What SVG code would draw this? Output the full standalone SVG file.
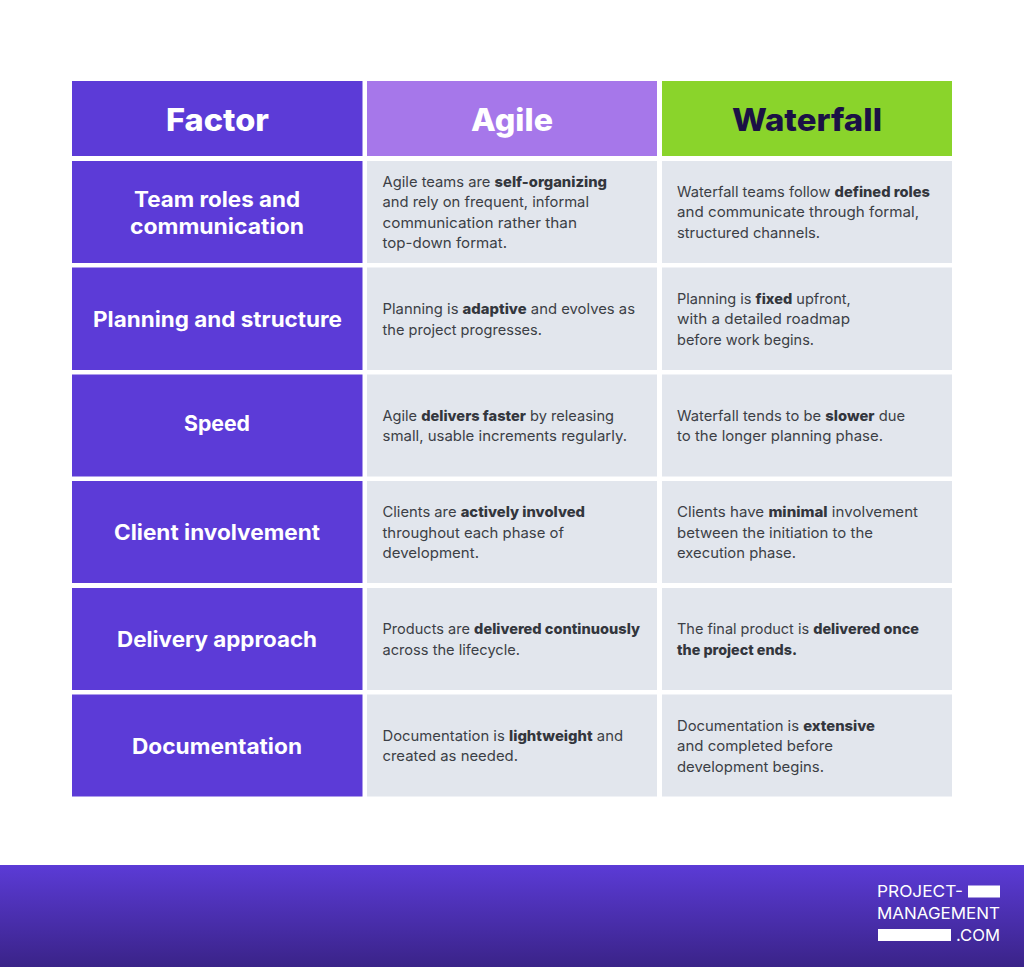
<svg xmlns="http://www.w3.org/2000/svg" width="1024" height="967" viewBox="0 0 1024 967">
<style>
text{font-family:"Inter","Noto Sans","Liberation Sans",sans-serif}
.p{fill:#5c3bd7}.g{fill:#e2e6ed}
.h{font-size:31px;font-weight:800}
.l{font-size:21px;font-weight:700;fill:#fff}
.b{font-size:14.500px;fill:#3c3f46}
.b tspan{font-weight:800;fill:#33363d}
.m{font-size:16.500px;fill:#fff;font-weight:400}
</style>
<defs><linearGradient id="ft" x1="0" y1="0" x2="0" y2="1"><stop offset="0" stop-color="#5b3bd6"/><stop offset="1" stop-color="#3a2388"/></linearGradient></defs>
<rect width="1024" height="967" fill="#fff"/>
<g id="header">
<g id="h-factor"><rect class="p" x="72" y="81" width="290.500" height="75"/><text class="h" x="166" y="130.500" textLength="103" lengthAdjust="spacingAndGlyphs" fill="#fff">Factor</text></g>
<g id="h-agile"><rect x="367" y="81" width="290" height="75" fill="#a677ea"/><text class="h" x="471" y="130.500" textLength="82" lengthAdjust="spacingAndGlyphs" fill="#fff">Agile</text></g>
<g id="h-waterfall"><rect x="662" y="81" width="290" height="75" fill="#8ad42b"/><text class="h" x="732" y="130.500" textLength="150" lengthAdjust="spacingAndGlyphs" fill="#1b1145">Waterfall</text></g>
</g>
<g id="row1">
<rect class="p" x="72" y="161" width="290.500" height="102"/>
<text class="l" x="134" y="206.500" textLength="166" lengthAdjust="spacingAndGlyphs">Team roles and</text>
<text class="l" x="130" y="233.500" textLength="174" lengthAdjust="spacingAndGlyphs">communication</text>
<rect class="g" x="367" y="161" width="290" height="102"/>
<text class="b" x="382.500" y="186.500" textLength="224.500" lengthAdjust="spacingAndGlyphs">Agile teams are <tspan>self-organizing</tspan></text>
<text class="b" x="382.500" y="207" textLength="206.500" lengthAdjust="spacingAndGlyphs">and rely on frequent, informal</text>
<text class="b" x="382.500" y="227.500" textLength="194.500" lengthAdjust="spacingAndGlyphs">communication rather than</text>
<text class="b" x="382.500" y="248" textLength="124.500" lengthAdjust="spacingAndGlyphs">top-down format.</text>
<rect class="g" x="662" y="161" width="290" height="102"/>
<text class="b" x="677" y="196.500" textLength="253" lengthAdjust="spacingAndGlyphs">Waterfall teams follow <tspan>defined roles</tspan></text>
<text class="b" x="677" y="217" textLength="242" lengthAdjust="spacingAndGlyphs">and communicate through formal,</text>
<text class="b" x="677" y="237.500" textLength="143" lengthAdjust="spacingAndGlyphs">structured channels.</text>
</g>
<g id="row2">
<rect class="p" x="72" y="267.500" width="290.500" height="102.500"/>
<text class="l" x="93" y="326.500" textLength="249" lengthAdjust="spacingAndGlyphs">Planning and structure</text>
<rect class="g" x="367" y="267.500" width="290" height="102.500"/>
<text class="b" x="382.500" y="314" textLength="252.500" lengthAdjust="spacingAndGlyphs">Planning is <tspan>adaptive</tspan> and evolves as</text>
<text class="b" x="382.500" y="334.500" textLength="159.500" lengthAdjust="spacingAndGlyphs">the project progresses.</text>
<rect class="g" x="662" y="267.500" width="290" height="102.500"/>
<text class="b" x="677" y="303.500" textLength="173.700" lengthAdjust="spacingAndGlyphs">Planning is <tspan>fixed</tspan> upfront,</text>
<text class="b" x="677" y="324" textLength="173" lengthAdjust="spacingAndGlyphs">with a detailed roadmap</text>
<text class="b" x="677" y="344.500" textLength="137" lengthAdjust="spacingAndGlyphs">before work begins.</text>
</g>
<g id="row3">
<rect class="p" x="72" y="374.500" width="290.500" height="102"/>
<text class="l" x="184" y="430.500" textLength="66" lengthAdjust="spacingAndGlyphs">Speed</text>
<rect class="g" x="367" y="374.500" width="290" height="102"/>
<text class="b" x="382.500" y="420.500" textLength="231.500" lengthAdjust="spacingAndGlyphs">Agile <tspan>delivers faster</tspan> by releasing</text>
<text class="b" x="382.500" y="441" textLength="244.500" lengthAdjust="spacingAndGlyphs">small, usable increments regularly.</text>
<rect class="g" x="662" y="374.500" width="290" height="102"/>
<text class="b" x="677" y="420.500" textLength="228" lengthAdjust="spacingAndGlyphs">Waterfall tends to be <tspan>slower</tspan> due</text>
<text class="b" x="677" y="441" textLength="206" lengthAdjust="spacingAndGlyphs">to the longer planning phase.</text>
</g>
<g id="row4">
<rect class="p" x="72" y="481" width="290.500" height="102"/>
<text class="l" x="114" y="539.500" textLength="206" lengthAdjust="spacingAndGlyphs">Client involvement</text>
<rect class="g" x="367" y="481" width="290" height="102"/>
<text class="b" x="382.500" y="517" textLength="202.500" lengthAdjust="spacingAndGlyphs">Clients are <tspan>actively involved</tspan></text>
<text class="b" x="382.500" y="537.500" textLength="181.500" lengthAdjust="spacingAndGlyphs">throughout each phase of</text>
<text class="b" x="382.500" y="558" textLength="96.500" lengthAdjust="spacingAndGlyphs">development.</text>
<rect class="g" x="662" y="481" width="290" height="102"/>
<text class="b" x="677" y="517" textLength="241" lengthAdjust="spacingAndGlyphs">Clients have <tspan>minimal</tspan> involvement</text>
<text class="b" x="677" y="537.500" textLength="196" lengthAdjust="spacingAndGlyphs">between the initiation to the</text>
<text class="b" x="677" y="558" textLength="119" lengthAdjust="spacingAndGlyphs">execution phase.</text>
</g>
<g id="row5">
<rect class="p" x="72" y="588" width="290.500" height="102"/>
<text class="l" x="117" y="646.500" textLength="200" lengthAdjust="spacingAndGlyphs">Delivery approach</text>
<rect class="g" x="367" y="588" width="290" height="102"/>
<text class="b" x="382.500" y="634" textLength="257.500" lengthAdjust="spacingAndGlyphs">Products are <tspan>delivered continuously</tspan></text>
<text class="b" x="382.500" y="654.500" textLength="137.500" lengthAdjust="spacingAndGlyphs">across the lifecycle.</text>
<rect class="g" x="662" y="588" width="290" height="102"/>
<text class="b" x="677" y="634" textLength="242" lengthAdjust="spacingAndGlyphs">The final product is <tspan>delivered once</tspan></text>
<text class="b" x="677" y="654.500" textLength="120" lengthAdjust="spacingAndGlyphs"><tspan>the project ends.</tspan></text>
</g>
<g id="row6">
<rect class="p" x="72" y="694.500" width="290.500" height="102"/>
<text class="l" x="132" y="753.500" textLength="170" lengthAdjust="spacingAndGlyphs">Documentation</text>
<rect class="g" x="367" y="694.500" width="290" height="102"/>
<text class="b" x="382.500" y="740.500" textLength="240.500" lengthAdjust="spacingAndGlyphs">Documentation is <tspan>lightweight</tspan> and</text>
<text class="b" x="382.500" y="761" textLength="135.500" lengthAdjust="spacingAndGlyphs">created as needed.</text>
<rect class="g" x="662" y="694.500" width="290" height="102"/>
<text class="b" x="677" y="730.500" textLength="198" lengthAdjust="spacingAndGlyphs">Documentation is <tspan>extensive</tspan></text>
<text class="b" x="677" y="751" textLength="156" lengthAdjust="spacingAndGlyphs">and completed before</text>
<text class="b" x="677" y="771.500" textLength="147" lengthAdjust="spacingAndGlyphs">development begins.</text>
</g>
<g id="footer">
<rect x="0" y="865" width="1024" height="102" fill="url(#ft)"/>
<text class="m" x="877" y="897" textLength="86" lengthAdjust="spacingAndGlyphs">PROJECT-</text>
<rect x="968" y="885.500" width="32" height="12" fill="#fff"/>
<text class="m" x="877" y="919" textLength="123" lengthAdjust="spacingAndGlyphs">MANAGEMENT</text>
<rect x="878" y="929" width="73" height="12" fill="#fff"/>
<text class="m" x="956" y="941" textLength="44" lengthAdjust="spacingAndGlyphs">.COM</text>
</g>
</svg>
